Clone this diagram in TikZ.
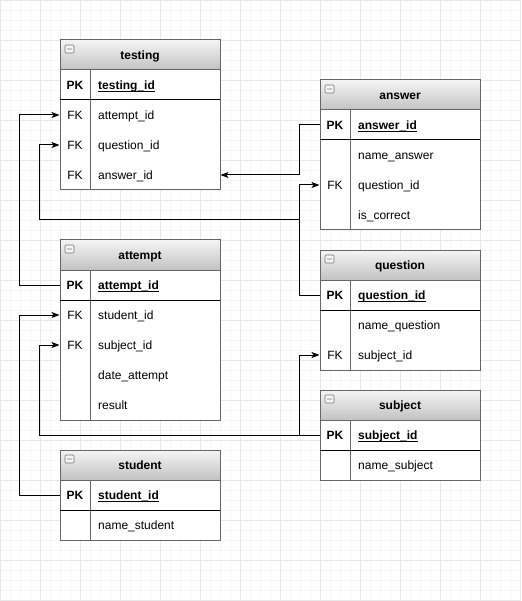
\documentclass[tikz,border=0pt]{standalone}
\usepackage{fontspec}
\setmainfont{Liberation Sans}
\usetikzlibrary{arrows.meta}

\begin{document}
\begin{tikzpicture}[x=1pt,y=-1pt,
        font=\fontsize{12}{14}\selectfont,
        fine/.style={black!4,line width=0.7pt},
        major/.style={black!9,line width=0.7pt},
        head/.style={draw=black!60,line width=1pt,minimum width=160pt,minimum height=30pt,inner sep=0pt,
            text height=10pt,text depth=1pt,
            top color=black!4,bottom color=black!24,font=\fontsize{12}{14}\selectfont\bfseries},
        box/.style={draw=black!60,fill=white,line width=1pt},
        icon/.style={draw=black!55,fill=black!4,line width=0.6pt,rounded corners=1pt},
        key/.style={inner sep=0pt,text height=10pt,text depth=1pt},
        field/.style={key,anchor=west},
        pkey/.style={field,font=\fontsize{12}{14}\selectfont\bfseries},
        uline/.style={line width=0.8pt},
        fk/.style={line width=1pt,-{Stealth[length=8pt,width=6pt,inset=2pt]}}]

    % background grid
    \fill[white] (0,0) rectangle (521,601);
    \useasboundingbox (0,0) rectangle (521,601);
    \foreach \x in {0,10,...,520} \draw[fine] (\x,0) -- (\x,601);
    \foreach \y in {0,10,...,600} \draw[fine] (0,\y) -- (521,\y);
    \foreach \x in {0,40,...,520} \draw[major] (\x,0) -- (\x,601);
    \foreach \y in {0,40,...,600} \draw[major] (0,\y) -- (521,\y);

    % testing
    \begin{scope}[shift={(60,40)}]
        \node[head] (testing) at (80,15) {testing};
        \draw[icon] (5,5) rectangle (14,13) (7,9) -- (12,9);
        \draw[box] (0,30) rectangle (160,150) (30,30) -- (30,150);
        \draw[line width=1pt] (0,60) -- (160,60);
        \node[key] (testingk1) at (15,45) {\textbf{PK}};
        \node[pkey] (testing1) at (38,45) {testing\_id};
        \foreach \k/\f [count=\i from 2] in {FK/attempt\_id,FK/question\_id,FK/answer\_id}{
            \node[key] (testingk\i) at (15,15+30*\i) {\k};
            \node[field] (testing\i) at (38,15+30*\i) {\f};
        }
    \end{scope}

    % answer
    \begin{scope}[shift={(320,80)}]
        \node[head] (answer) at (80,15) {answer};
        \draw[icon] (5,5) rectangle (14,13) (7,9) -- (12,9);
        \draw[box] (0,30) rectangle (160,150) (30,30) -- (30,150);
        \draw[line width=1pt] (0,60) -- (160,60);
        \node[key] (answerk1) at (15,45) {\textbf{PK}};
        \node[pkey] (answer1) at (38,45) {answer\_id};
        \foreach \k/\f [count=\i from 2] in {{}/name\_answer,FK/question\_id,{}/is\_correct}{
            \node[key] (answerk\i) at (15,15+30*\i) {\k};
            \node[field] (answer\i) at (38,15+30*\i) {\f};
        }
    \end{scope}

    % attempt
    \begin{scope}[shift={(60,240)}]
        \node[head] (attempt) at (80,15) {attempt};
        \draw[icon] (5,5) rectangle (14,13) (7,9) -- (12,9);
        \draw[box] (0,30) rectangle (160,180) (30,30) -- (30,180);
        \draw[line width=1pt] (0,60) -- (160,60);
        \node[key] (attemptk1) at (15,45) {\textbf{PK}};
        \node[pkey] (attempt1) at (38,45) {attempt\_id};
        \foreach \k/\f [count=\i from 2] in {FK/student\_id,FK/subject\_id,{}/date\_attempt,{}/result}{
            \node[key] (attemptk\i) at (15,15+30*\i) {\k};
            \node[field] (attempt\i) at (38,15+30*\i) {\f};
        }
    \end{scope}

    % question
    \begin{scope}[shift={(320,250)}]
        \node[head] (question) at (80,15) {question};
        \draw[icon] (5,5) rectangle (14,13) (7,9) -- (12,9);
        \draw[box] (0,30) rectangle (160,120) (30,30) -- (30,120);
        \draw[line width=1pt] (0,60) -- (160,60);
        \node[key] (questionk1) at (15,45) {\textbf{PK}};
        \node[pkey] (question1) at (38,45) {question\_id};
        \foreach \k/\f [count=\i from 2] in {{}/name\_question,FK/subject\_id}{
            \node[key] (questionk\i) at (15,15+30*\i) {\k};
            \node[field] (question\i) at (38,15+30*\i) {\f};
        }
    \end{scope}

    % subject
    \begin{scope}[shift={(320,390)}]
        \node[head] (subject) at (80,15) {subject};
        \draw[icon] (5,5) rectangle (14,13) (7,9) -- (12,9);
        \draw[box] (0,30) rectangle (160,90) (30,30) -- (30,90);
        \draw[line width=1pt] (0,60) -- (160,60);
        \node[key] (subjectk1) at (15,45) {\textbf{PK}};
        \node[pkey] (subject1) at (38,45) {subject\_id};
        \node[field] (subject2) at (38,75) {name\_subject};
    \end{scope}

    % student
    \begin{scope}[shift={(60,450)}]
        \node[head] (student) at (80,15) {student};
        \draw[icon] (5,5) rectangle (14,13) (7,9) -- (12,9);
        \draw[box] (0,30) rectangle (160,90) (30,30) -- (30,90);
        \draw[line width=1pt] (0,60) -- (160,60);
        \node[key] (studentk1) at (15,45) {\textbf{PK}};
        \node[pkey] (student1) at (38,45) {student\_id};
        \node[field] (student2) at (38,75) {name\_student};
    \end{scope}

    % primary keys underlined
    \foreach \t in {testing1,answer1,attempt1,question1,subject1,student1}
        \draw[uline] ([yshift=-2pt]\t.base west) -- ([yshift=-2pt]\t.base east);

    % relations
    \draw[fk] (attempt.west |- attempt1) -- ++(-40,0) |- (testing.west |- testing2);
    \draw[fk] (answer.west |- answer1) -- ++(-20,0) |- (testing.east |- testing4);
    \draw[fk] (question.west |- question1) -- ++(-20,0) |- (answer.west |- answer3);
    \draw[fk] (question.west |- question1) -- ++(-20,0) -- ++(0,-75) -| ++(-260,-75) -- (testing.west |- testing3);
    \draw[fk] (subject.west |- subject1) -- ++(-20,0) |- (question.west |- question3);
    \draw[fk] (subject.west |- subject1) -- ++(-280,0) |- (attempt.west |- attempt3);
    \draw[fk] (student.west |- student1) -- ++(-40,0) |- (attempt.west |- attempt2);
\end{tikzpicture}
\end{document}
